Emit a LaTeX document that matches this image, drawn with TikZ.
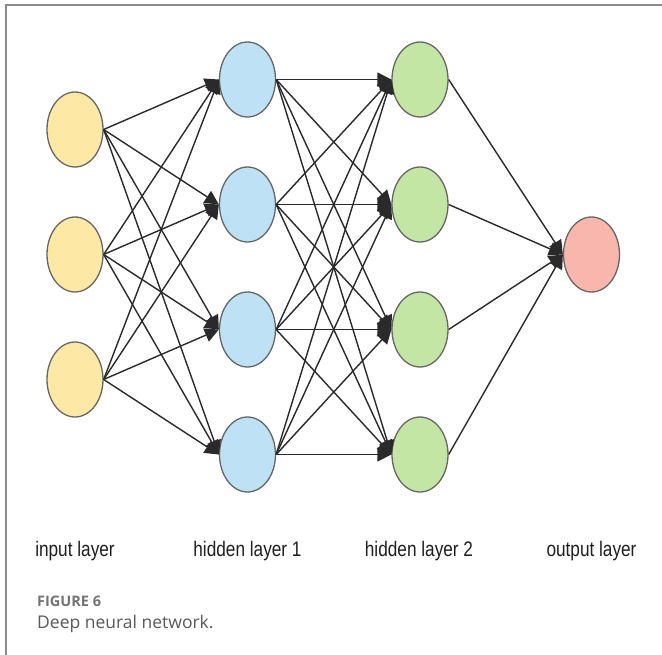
\documentclass[tikz,border=0pt]{standalone}
\usepackage{fontspec}
\setmainfont{Liberation Sans}
\newfontfamily\capfont{Open Sans}
\usetikzlibrary{shapes.geometric,arrows.meta}

\definecolor{inyellow}{HTML}{FDE8A5}
\definecolor{hidblue}{HTML}{BEE1F5}
\definecolor{hidgreen}{HTML}{C4E6A5}
\definecolor{outpink}{HTML}{F9B6AC}
\definecolor{rim}{HTML}{666666}
\definecolor{wire}{HTML}{2A2A2A}
\definecolor{frame}{HTML}{8A8A8A}
\definecolor{captext}{HTML}{5A5A5A}

\tikzset{
  neuron/.style={ellipse, draw=rim, line width=1.3pt, inner sep=0pt,
                 minimum width=56pt, minimum height=75pt},
  edge/.style={draw=wire, line width=1.4pt,
               -{Triangle[length=14pt,width=14pt]}},
  layerlabel/.style={anchor=base, inner sep=0pt, text=black!88,
                     font=\fontsize{21}{25}\selectfont},
  capline/.style={anchor=base west, inner sep=0pt, text=captext},
}

\begin{document}
\begin{tikzpicture}[x=1pt,y=-1pt]
  \useasboundingbox (0,0) rectangle (662,655);
  \fill[white] (0,0) rectangle (662,655);

  % panel frame (top and left edges)
  \draw[frame, line width=2pt] (6,656) -- (6,5) -- (663,5);

  % input layer
  \foreach \k/\y in {1/129.5, 2/254.5, 3/379.5}
    \node[neuron, fill=inyellow] (i\k) at (75,\y) {};
  % hidden layer 1
  \foreach \k/\y in {1/79.5, 2/204.5, 3/329.5, 4/454.5}
    \node[neuron, fill=hidblue] (a\k) at (247.5,\y) {};
  % hidden layer 2
  \foreach \k/\y in {1/79.5, 2/204.5, 3/329.5, 4/454.5}
    \node[neuron, fill=hidgreen] (b\k) at (420,\y) {};
  % output layer
  \node[neuron, fill=outpink] (o1) at (591.5,254.5) {};

  % fully connected weights
  \foreach \s in {1,2,3}
    \foreach \t in {1,2,3,4}
      \draw[edge] (i\s.east) -- (a\t.west);
  \foreach \s in {1,2,3,4}
    \foreach \t in {1,2,3,4}
      \draw[edge] (a\s.east) -- (b\t.west);
  \foreach \s in {1,2,3,4}
    \draw[edge] (b\s.east) -- (o1.west);

  % layer names
  \node[layerlabel] (li) at (75,556)    {\scalebox{0.82}[1]{input layer}};
  \node[layerlabel] (la) at (247.5,556) {\scalebox{0.82}[1]{hidden layer 1}};
  \node[layerlabel] (lb) at (419,556)   {\scalebox{0.82}[1]{hidden layer 2}};
  \node[layerlabel] (lo) at (591.5,556) {\scalebox{0.82}[1]{output layer}};

  % caption
  \node[capline, font=\capfont\bfseries\fontsize{14.5}{17}\selectfont, text=captext!85]
    (fig) at (37,606) {FIGURE 6};
  \node[capline, font=\capfont\fontsize{17.5}{21}\selectfont]
    (cap) at (37,628) {Deep neural network.};
\end{tikzpicture}
\end{document}
